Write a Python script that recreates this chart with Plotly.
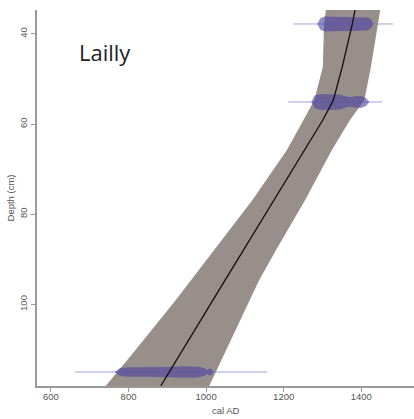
import plotly.graph_objects as go

# Age-depth model (depth in cm, ages in cal AD)
model_depth = [34.7, 37.8, 47.3, 54.7, 59.1, 65.8, 76.9, 88.0, 94.6, 99.0, 111.3, 118.1]
model_mean  = [1384, 1377, 1351, 1328, 1301, 1253, 1174, 1096, 1049, 1018, 931, 883]
model_min   = [1309, 1304, 1301, 1279, 1251, 1208, 1119, 1021, 962, 922, 807, 741]
model_max   = [1449, 1443, 1425, 1408, 1371, 1324, 1255, 1180, 1137, 1111, 1045, 1008]

# Calibrated dates: depth, full range, probability profile
date_depth = [37.8, 55.1, 115.0]
date_range_lo = [1225, 1212, 663]
date_range_hi = [1482, 1454, 1157]
date1_years = [1287, 1295, 1305, 1330, 1360, 1395, 1418, 1426, 1430]
date1_prob  = [0.0, 0.75, 1.0, 0.95, 0.9, 0.9, 0.85, 0.5, 0.0]
date2_years = [1272, 1280, 1295, 1320, 1345, 1360, 1372, 1385, 1400, 1412, 1420]
date2_prob  = [0.0, 0.8, 1.0, 1.0, 0.95, 0.7, 0.6, 0.7, 0.75, 0.5, 0.0]
date3_years = [765, 778, 800, 850, 900, 940, 980, 995, 1003, 1008, 1014, 1018]
date3_prob  = [0.0, 0.7, 0.85, 0.85, 0.9, 1.0, 0.95, 0.7, 0.3, 0.6, 0.5, 0.0]
date_years = [date1_years, date2_years, date3_years]
date_probs = [date1_prob, date2_prob, date3_prob]
date_halfwidth = [1.6, 1.7, 1.2]  # cm, drawing scale of each blob

x_ticks = [600, 800, 1000, 1200, 1400]
y_ticks = [40, 60, 80, 100]

fig = go.Figure()

# uncertainty band
fig.add_trace(go.Scatter(
    x=model_min + model_max[::-1],
    y=model_depth + model_depth[::-1],
    fill="toself", mode="lines", line=dict(width=0),
    fillcolor="rgb(152,143,139)", hoverinfo="skip", showlegend=False))

# date range lines and blobs
for d, lo, hi, yrs, pr, hw in zip(date_depth, date_range_lo, date_range_hi,
                                  date_years, date_probs, date_halfwidth):
    fig.add_trace(go.Scatter(
        x=[lo, hi], y=[d, d], mode="lines",
        line=dict(color="rgba(120,120,200,0.7)", width=1),
        hoverinfo="skip", showlegend=False))
    top = [d - hw * p for p in pr]
    bot = [d + hw * p for p in pr]
    fig.add_trace(go.Scatter(
        x=yrs + yrs[::-1], y=top + bot[::-1],
        fill="toself", mode="lines", line=dict(width=0.5, color="rgba(80,70,170,0.5)"),
        fillcolor="rgba(75,65,160,0.6)", hoverinfo="skip", showlegend=False))

# mean line
fig.add_trace(go.Scatter(
    x=model_mean, y=model_depth, mode="lines",
    line=dict(color="rgb(25,12,12)", width=1.3),
    hoverinfo="skip", showlegend=False))

axis_font = dict(family="Liberation Sans, Arial, sans-serif", size=9.5, color="#555")
W, H, L, R, T, B = 414, 419, 37, 0, 10, 33
pw, ph = W - L - R, H - T - B
fig.update_layout(
    width=W, height=H,
    margin=dict(l=L, r=R, t=T, b=B),
    paper_bgcolor="white", plot_bgcolor="white",
    showlegend=False,
    xaxis=dict(range=[564, 1536], tickvals=x_ticks, ticks="outside", ticklen=4,
               tickcolor="#999", showline=True, linecolor="#999", linewidth=1.5,
               showgrid=False, zeroline=False, tickfont=axis_font,
               ticklabelstandoff=-3),
    yaxis=dict(range=[118.1, 34.7], tickvals=y_ticks, ticks="outside", ticklen=4,
               tickcolor="#999", showline=True, linecolor="#999", linewidth=1.5,
               showgrid=False, zeroline=False, tickfont=axis_font, tickangle=-90,
               title=dict(text="Depth (cm)", font=axis_font, standoff=2)),
    annotations=[
        dict(text="Lailly", x=(77 - L) / pw, y=(H - B - 52) / ph,
             xref="paper", yref="paper", showarrow=False,
             xanchor="left", yanchor="middle",
             font=dict(family="Open Sans, sans-serif", size=22, color="#222")),
        dict(text="cal AD", x=0.5, y=(H - B - 410) / ph,
             xref="paper", yref="paper", showarrow=False,
             xanchor="center", yanchor="middle", font=axis_font),
    ],
)

fig.write_html("out.html", config={"displayModeBar": False},
               post_script="document.body.style.margin='0';document.body.style.overflow='hidden';")
